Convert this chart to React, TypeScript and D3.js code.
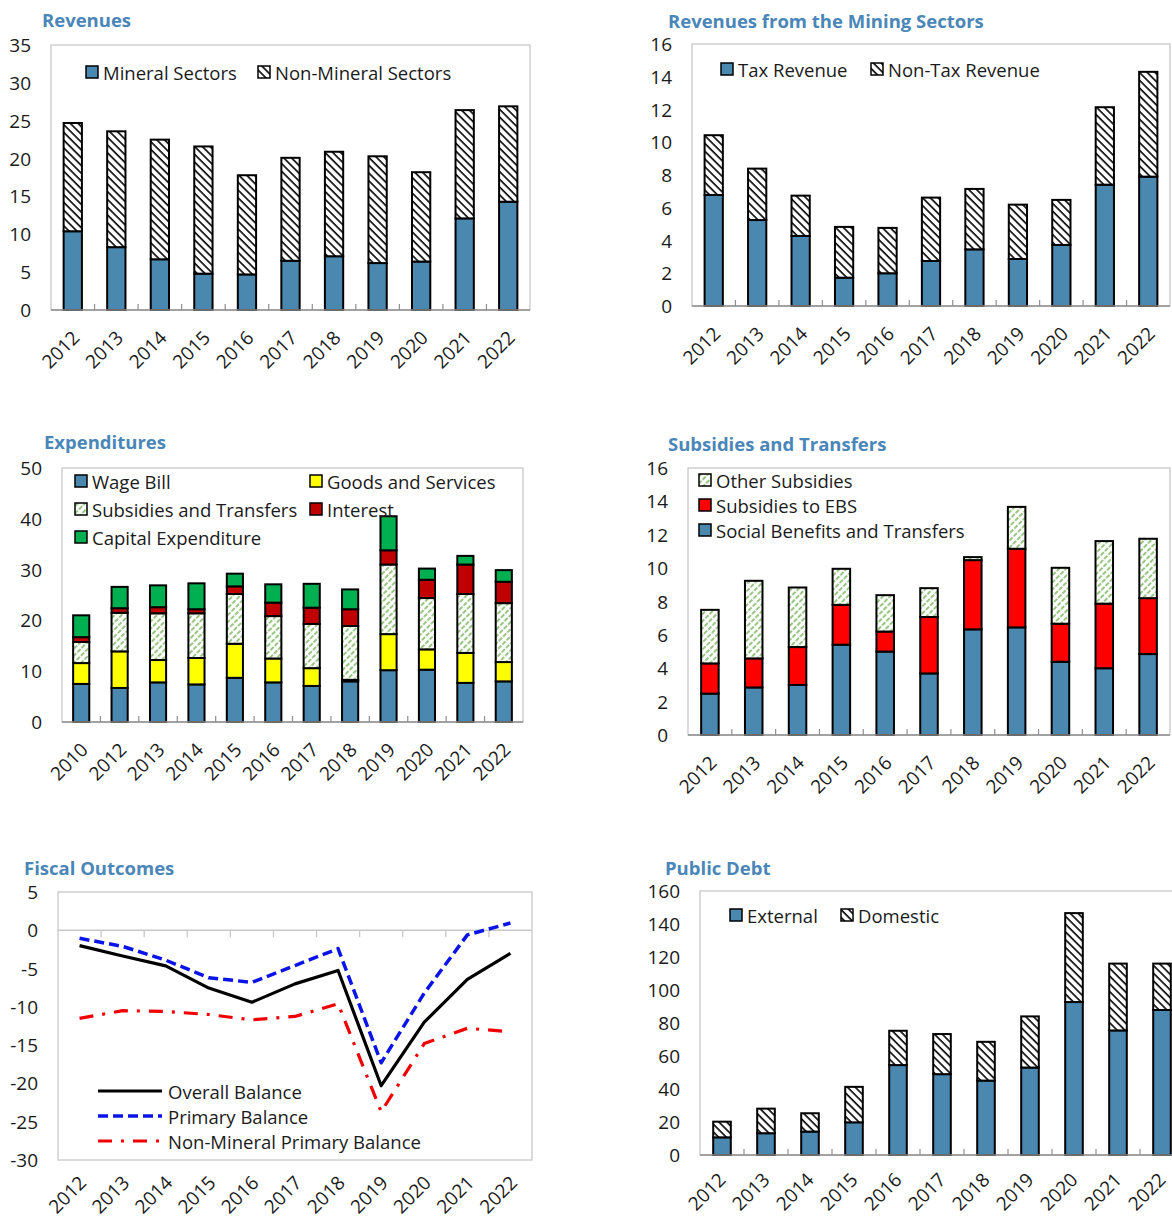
import React from 'react';
import * as d3 from 'd3';

const years11 = ['2012', '2013', '2014', '2015', '2016', '2017', '2018', '2019', '2020', '2021', '2022'];
const expYears = ['2010', '2012', '2013', '2014', '2015', '2016', '2017', '2018', '2019', '2020', '2021', '2022'];

// Revenues
const revMineral = [10.4, 8.3, 6.7, 4.8, 4.7, 6.5, 7.1, 6.2, 6.4, 12.1, 14.3];
const revNonMineral = [14.3, 15.3, 15.8, 16.8, 13.1, 13.6, 13.8, 14.1, 11.8, 14.3, 12.6];

// Revenues from mining
const minTax = [6.78, 5.25, 4.28, 1.73, 2.0, 2.75, 3.46, 2.87, 3.73, 7.41, 7.9];
const minNonTax = [3.65, 3.14, 2.46, 3.1, 2.77, 3.87, 3.69, 3.32, 2.75, 4.73, 6.4];

// Expenditures
const expWage = [7.5, 6.7, 7.8, 7.4, 8.7, 7.8, 7.1, 8.0, 10.2, 10.3, 7.7, 8.0];
const expGoods = [4.1, 7.2, 4.4, 5.2, 6.7, 4.7, 3.5, 0.3, 7.1, 4.0, 5.9, 3.8];
const expSubs = [4.15, 7.6, 9.2, 8.8, 9.8, 8.35, 8.7, 10.6, 13.7, 10.1, 11.6, 11.6];
const expInterest = [0.95, 0.9, 1.2, 0.8, 1.5, 2.65, 3.2, 3.3, 2.8, 3.6, 5.8, 4.2];
const expCapital = [4.3, 4.2, 4.3, 5.1, 2.5, 3.6, 4.7, 3.9, 6.7, 2.2, 1.7, 2.3];

// Subsidies and transfers
const subSocial = [2.48, 2.85, 3.0, 5.41, 5.0, 3.69, 6.33, 6.45, 4.39, 4.0, 4.85];
const subEBS = [1.81, 1.74, 2.27, 2.39, 1.2, 3.38, 4.15, 4.71, 2.28, 3.87, 3.35];
const subOther = [3.21, 4.65, 3.57, 2.16, 2.18, 1.73, 0.18, 2.51, 3.35, 3.75, 3.56];

// Fiscal outcomes
const fisOverall = [-2.0, -3.35, -4.65, -7.55, -9.4, -7.0, -5.25, -20.3, -12.0, -6.4, -3.0];
const fisPrimary = [-1.05, -2.1, -3.9, -6.2, -6.8, -4.6, -2.4, -17.3, -8.2, -0.6, 0.95];
const fisNonMineral = [-11.5, -10.5, -10.6, -11.0, -11.7, -11.25, -9.6, -23.7, -14.8, -12.8, -13.25];

// Public debt
const debtExternal = [10.7, 13.2, 14.2, 19.8, 54.5, 49.0, 45.1, 53.0, 92.7, 75.5, 87.9];
const debtDomestic = [9.5, 14.9, 11.1, 21.5, 20.8, 24.3, 23.5, 31.0, 53.9, 40.5, 28.1];

const FONT = "'Open Sans', 'Noto Sans', sans-serif";
const BLUE = '#4a88b0';
const TITLE = '#4a86b8';
const TXT = '#1a1a1a';
const FRAME = '#c8c8c8';
const AXIS = '#8f8f8f';

type Box = { l: number; r: number; t: number; b: number };
type Series = { name: string; values: number[]; fill: string };
type LegendItem = { name: string; fill: string; x: number; y: number };

function YTicks({ box, y, ticks }: { box: Box; y: d3.ScaleLinear<number, number>; ticks: number[] }) {
  return (
    <g>
      {ticks.map((v) => (
        <text key={v} x={box.l - 20} y={y(v)} textAnchor="end" dominantBaseline="central" fontSize={19} fill={TXT} fontFamily={FONT}>
          {v}
        </text>
      ))}
    </g>
  );
}

function XLabels({ cats, x, yBase, dy = 29, dx = 8 }: { cats: string[]; x: (c: string) => number; yBase: number; dy?: number; dx?: number }) {
  return (
    <g>
      {cats.map((c) => (
        <text key={c} transform={`translate(${x(c) + dx},${yBase + dy}) rotate(-45)`} textAnchor="end" fontSize={19} fill={TXT} fontFamily={FONT}>
          {c}
        </text>
      ))}
    </g>
  );
}

function Legend({ items }: { items: LegendItem[] }) {
  return (
    <g>
      {items.map((it) => (
        <g key={it.name}>
          <rect x={it.x} y={it.y - 6} width={12} height={12} fill={it.fill} stroke="#000" strokeWidth={1.5} />
          <text x={it.x + 17} y={it.y} dominantBaseline="central" fontSize={18.5} fill={TXT} fontFamily={FONT}>
            {it.name}
          </text>
        </g>
      ))}
    </g>
  );
}

function StackedPanel({
  title, tx, ty, box, cats, series, max, step, legend, pad = 0.6, labelDy = 29, labelDx = 8,
}: {
  title: string; tx: number; ty: number; box: Box; cats: string[]; series: Series[]; max: number; step: number; legend: LegendItem[]; pad?: number; labelDy?: number; labelDx?: number;
}) {
  const x = d3.scaleBand<string>().domain(cats).range([box.l, box.r]).paddingInner(pad).paddingOuter(pad / 2);
  const y = d3.scaleLinear().domain([0, max]).range([box.b, box.t]);
  const ticks = d3.range(0, max + step / 2, step);
  const rows = cats.map((c, i) => {
    const o: Record<string, number | string> = { cat: c };
    series.forEach((s) => (o[s.name] = s.values[i]));
    return o;
  });
  const stack = d3.stack<Record<string, number | string>>().keys(series.map((s) => s.name)).value((d, k) => d[k] as number);
  const layers = stack(rows);
  const step_ = x.step();
  return (
    <g>
      <text x={tx} y={ty} fontSize={18.5} fontWeight="bold" fill={TITLE} fontFamily={FONT}>{title}</text>
      <rect x={box.l} y={box.t} width={box.r - box.l} height={box.b - box.t} fill="#fff" stroke={FRAME} strokeWidth={1.3} />
      {layers.map((layer, li) => (
        <g key={li}>
          {layer.map((d, i) => (
            <rect key={i} x={x(cats[i])!} y={y(d[1])} width={x.bandwidth()} height={Math.max(0, y(d[0]) - y(d[1]))} fill={series[li].fill} stroke="#000" strokeWidth={2} />
          ))}
        </g>
      ))}
      <line x1={box.l} x2={box.r} y1={box.b} y2={box.b} stroke={AXIS} strokeWidth={1.5} />
      {cats.slice(1).map((c) => (
        <line key={c} x1={x(c)! - (step_ - x.bandwidth()) / 2} x2={x(c)! - (step_ - x.bandwidth()) / 2} y1={box.b} y2={box.b - 6} stroke={AXIS} strokeWidth={1.2} />
      ))}
      <YTicks box={box} y={y} ticks={ticks} />
      <XLabels cats={cats} x={(c) => x(c)! + x.bandwidth() / 2} yBase={box.b} dy={labelDy} dx={labelDx} />
      <Legend items={legend} />
    </g>
  );
}

function FiscalPanel() {
  const box: Box = { l: 58, r: 532, t: 892, b: 1160 };
  const x = d3.scalePoint<string>().domain(years11).range([box.l, box.r]).padding(0.5);
  const y = d3.scaleLinear().domain([-30, 5]).range([box.b, box.t]);
  const ticks = d3.range(-30, 6, 5);
  const lineGen = d3.line<number>().x((_, i) => x(years11[i])!).y((v) => y(v));
  const stepW = x.step();
  const lines = [
    { name: 'Overall Balance', values: fisOverall, color: '#000', dash: '', w: 3.2 },
    { name: 'Primary Balance', values: fisPrimary, color: '#0a14e6', dash: '10,5', w: 3.5 },
    { name: 'Non-Mineral Primary Balance', values: fisNonMineral, color: '#f00000', dash: '14,9,3,9', w: 3.2 },
  ];
  return (
    <g>
      <text x={24} y={875} fontSize={18.5} fontWeight="bold" fill={TITLE} fontFamily={FONT}>Fiscal Outcomes</text>
      <rect x={box.l} y={box.t} width={box.r - box.l} height={box.b - box.t} fill="#fff" stroke={FRAME} strokeWidth={1.3} />
      <line x1={box.l} x2={box.r} y1={y(0)} y2={y(0)} stroke={FRAME} strokeWidth={1.5} />
      {years11.slice(1).map((c) => (
        <line key={c} x1={x(c)! - stepW / 2} x2={x(c)! - stepW / 2} y1={y(0)} y2={y(0) + 7} stroke={FRAME} strokeWidth={1.3} />
      ))}
      {lines.map((l) => (
        <path key={l.name} d={lineGen(l.values)!} fill="none" stroke={l.color} strokeWidth={l.w} strokeDasharray={l.dash || undefined} strokeLinejoin="round" />
      ))}
      {lines.map((l, i) => (
        <g key={'lg' + i}>
          <line x1={98} x2={162} y1={1091 + i * 25} y2={1091 + i * 25} stroke={l.color} strokeWidth={l.w} strokeDasharray={l.dash || undefined} />
          <text x={168} y={1091 + i * 25} dominantBaseline="central" fontSize={18.5} fill={TXT} fontFamily={FONT}>{l.name}</text>
        </g>
      ))}
      <YTicks box={box} y={y} ticks={ticks} />
      <XLabels cats={years11} x={(c) => x(c)!} yBase={box.b} dy={24} />
    </g>
  );
}

export default function App() {
  const HB = 'url(#hatchBlack)';
  const HG = 'url(#hatchGreen)';
  return (
    <svg width={1172} height={1222} style={{ position: 'absolute', left: 0, top: 0, background: '#fff' }}>
      <defs>
        <pattern id="hatchBlack" patternUnits="userSpaceOnUse" width={5.5} height={5.5} patternTransform="rotate(-45)">
          <rect width={5.5} height={5.5} fill="#fff" />
          <line x1={1} x2={1} y1={0} y2={5.5} stroke="#000" strokeWidth={1.6} />
        </pattern>
        <pattern id="hatchGreen" patternUnits="userSpaceOnUse" width={5} height={6} patternTransform="rotate(45)">
          <rect width={5} height={6} fill="#fff" />
          <line x1={1} x2={1} y1={0} y2={6} stroke="#7db662" strokeWidth={1.6} strokeDasharray="4.5,1.5" />
        </pattern>
      </defs>
      <rect width={1172} height={1222} fill="#fff" />

      <StackedPanel
        title="Revenues" tx={42} ty={27}
        box={{ l: 51, r: 530, t: 45, b: 310 }}
        cats={years11} max={35} step={5} pad={0.58}
        series={[
          { name: 'Mineral Sectors', values: revMineral, fill: BLUE },
          { name: 'Non-Mineral Sectors', values: revNonMineral, fill: HB },
        ]}
        legend={[
          { name: 'Mineral Sectors', fill: BLUE, x: 86, y: 72 },
          { name: 'Non-Mineral Sectors', fill: HB, x: 258, y: 72 },
        ]}
      />

      <StackedPanel
        title="Revenues from the Mining Sectors" tx={668} ty={28}
        box={{ l: 692, r: 1170, t: 44, b: 306 }}
        cats={years11} max={16} step={2} pad={0.58}
        series={[
          { name: 'Tax Revenue', values: minTax, fill: BLUE },
          { name: 'Non-Tax Revenue', values: minNonTax, fill: HB },
        ]}
        legend={[
          { name: 'Tax Revenue', fill: BLUE, x: 721, y: 69 },
          { name: 'Non-Tax Revenue', fill: HB, x: 871, y: 69 },
        ]}
      />

      <StackedPanel
        title="Expenditures" tx={44} ty={449}
        box={{ l: 62, r: 523, t: 468, b: 722 }}
        cats={expYears} max={50} step={10} pad={0.58}
        series={[
          { name: 'Wage Bill', values: expWage, fill: BLUE },
          { name: 'Goods and Services', values: expGoods, fill: '#ffff00' },
          { name: 'Subsidies and Transfers', values: expSubs, fill: HG },
          { name: 'Interest', values: expInterest, fill: '#c00000' },
          { name: 'Capital Expenditure', values: expCapital, fill: '#00b050' },
        ]}
        legend={[
          { name: 'Wage Bill', fill: BLUE, x: 75, y: 481 },
          { name: 'Goods and Services', fill: '#ffff00', x: 310, y: 481 },
          { name: 'Subsidies and Transfers', fill: HG, x: 75, y: 509 },
          { name: 'Interest', fill: '#c00000', x: 310, y: 509 },
          { name: 'Capital Expenditure', fill: '#00b050', x: 75, y: 537 },
        ]}
      />

      <StackedPanel
        title="Subsidies and Transfers" tx={668} ty={451}
        box={{ l: 688, r: 1170, t: 468, b: 735 }}
        cats={years11} max={16} step={2} pad={0.6}
        series={[
          { name: 'Social Benefits and Transfers', values: subSocial, fill: BLUE },
          { name: 'Subsidies to EBS', values: subEBS, fill: '#ff0000' },
          { name: 'Other Subsidies', values: subOther, fill: HG },
        ]}
        legend={[
          { name: 'Other Subsidies', fill: HG, x: 699, y: 480 },
          { name: 'Subsidies to EBS', fill: '#ff0000', x: 699, y: 505 },
          { name: 'Social Benefits and Transfers', fill: BLUE, x: 699, y: 530 },
        ]}
      />

      <FiscalPanel />

      <StackedPanel
        title="Public Debt" tx={665} ty={875}
        box={{ l: 700, r: 1184, t: 891, b: 1155 }}
        cats={years11} max={160} step={20} pad={0.6} labelDy={26} labelDx={5}
        series={[
          { name: 'External', values: debtExternal, fill: BLUE },
          { name: 'Domestic', values: debtDomestic, fill: HB },
        ]}
        legend={[
          { name: 'External', fill: BLUE, x: 730, y: 915 },
          { name: 'Domestic', fill: HB, x: 841, y: 915 },
        ]}
      />
    </svg>
  );
}
